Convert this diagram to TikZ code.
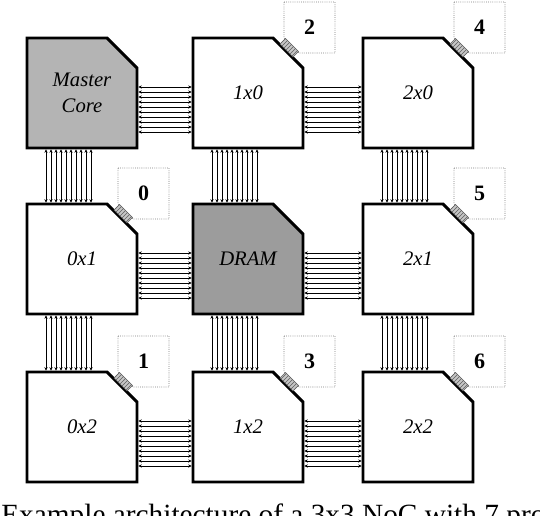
\documentclass[tikz,border=0pt]{standalone}
\usepackage{fontspec}
\setmainfont{Liberation Serif}
\usetikzlibrary{calc,arrows.meta,backgrounds,patterns}

\definecolor{nocmaster}{HTML}{B4B4B4}
\definecolor{nocdram}{HTML}{9C9C9C}
\definecolor{noctag}{HTML}{7A7A7A}
\definecolor{nochatch}{HTML}{5E5E5E}

\begin{document}
\begin{tikzpicture}[
  x=0.75pt, y=-0.75pt,
  tile/.style={rectangle, minimum size=82.5pt, inner sep=0pt, outer sep=0pt, align=center,
    font=\fontsize{15.5}{19}\selectfont\itshape},
  tileline/.style={draw=black, line width=2.2pt, line join=miter},
  tag/.style={rectangle, minimum size=38.25pt, inner sep=0pt, outer sep=0pt,
    font=\fontsize{16.5}{19}\selectfont\bfseries},
  tagline/.style={draw=noctag, densely dotted, line width=0.6pt},
  hatch/.style={draw=nochatch, line width=0.4pt, pattern=north east lines, pattern color=nochatch,
    preaction={fill=gray!45}},
  wire/.style={line width=0.55pt, {Stealth[length=2.6pt,width=2.4pt]}-{Stealth[length=2.6pt,width=2.4pt]},
    shorten <=1pt, shorten >=1pt},
  captext/.style={font=\fontsize{22}{26}\selectfont, anchor=base west, inner sep=0pt},
]
  \useasboundingbox (0,0) rectangle (540,516);
  \clip (0,0) rectangle (540,516);

  % tiles
  \node[tile] (mc)   at (82,93)   {Master\\Core};
  \node[tile] (t10)  at (248,93)  {1x0};
  \node[tile] (t20)  at (418,93)  {2x0};
  \node[tile] (t01)  at (82,259)  {0x1};
  \node[tile] (dram) at (248,259) {DRAM};
  \node[tile] (t21)  at (418,259) {2x1};
  \node[tile] (t02)  at (82,427)  {0x2};
  \node[tile] (t12)  at (248,427) {1x2};
  \node[tile] (t22)  at (418,427) {2x2};

  % tile outlines, cut at the top right
  \begin{scope}[on background layer]
    \foreach \n/\c in {mc/nocmaster, t10/white, t20/white, t01/white, dram/nocdram,
                       t21/white, t02/white, t12/white, t22/white}
      \draw[tileline, fill=\c] (\n.south west) -- (\n.north west) -- ($(\n.north east)+(-30,0)$)
        -- ($(\n.north east)+(0,30)$) -- (\n.south east) -- cycle;
  \end{scope}

  % links
  \foreach \a/\b in {mc/t10, t10/t20, t01/dram, dram/t21, t02/t12, t12/t22}
    \foreach \k in {0,...,9}
      \draw[wire] ($(\a.east)+(0,-6+5*\k)$) -- ($(\b.west)+(0,-6+5*\k)$);
  \foreach \a/\b in {mc/t01, t01/t02, t10/dram, dram/t12, t20/t21, t21/t22}
    \foreach \k in {0,...,9}
      \draw[wire] ($(\a.south)+(-36+5*\k,0)$) -- ($(\b.north)+(-36+5*\k,0)$);

  % processor tags
  \foreach \n/\g/\lbl in {t01/g0/0, t02/g1/1, t10/g2/2, t12/g3/3, t20/g4/4, t21/g5/5, t22/g6/6} {
    \node[tag] (\g) at ($(\n.north east)+(6.5,-10.5)$) {\lbl};
    \draw[tagline] (\g.north west) -- (\g.north east) -- (\g.south east)
      -- ($(\g.south west)+(15,0)$) -- ($(\g.south west)+(0,-15)$) -- cycle;
    \draw[hatch] ($(\n.north east)+(-23,6)$) -- ($(\n.north east)+(-10,19)$)
      -- ($(\n.north east)+(-4.5,13.5)$) -- ($(\n.north east)+(-17.5,0.5)$) -- cycle;
  }

  % caption, cut by the lower edge
  \node[captext] (cap) at (1,525) {Example architecture of a 3x3 NoC with 7 processors};
\end{tikzpicture}
\end{document}
